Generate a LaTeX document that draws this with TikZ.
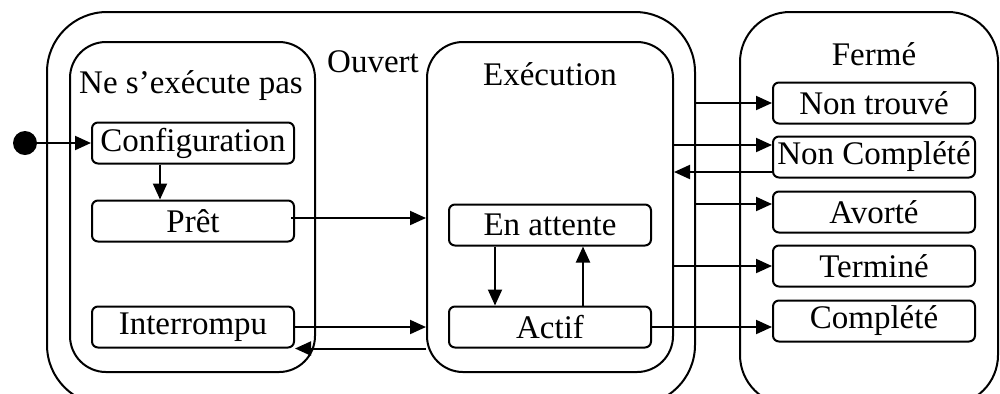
\documentclass[tikz,border=0pt]{standalone}
\usepackage{fontspec}
\setmainfont{Liberation Serif}
\usetikzlibrary{arrows.meta}
\begin{document}
\begin{tikzpicture}[x=0.5pt,y=-0.5pt,
  every node/.style={font=\fontsize{16.5}{19}\selectfont, inner sep=0pt},
  region/.style={draw, line width=1pt, rounded corners=#1},
  state/.style={draw, line width=1pt, rounded corners=3pt, minimum width=101pt, minimum height=20.5pt},
  arr/.style={line width=1pt, -{Triangle[length=8pt,width=7pt]}},
  lbl/.style={anchor=base}]
\useasboundingbox (0,0) rectangle (1000,393);

% composite states
\node[region=30pt, minimum width=324pt, minimum height=196.5pt] (ouvert) at (371,208.5) {};
\node[region=18pt, minimum width=122.5pt, minimum height=165pt] (nepas) at (192.5,207) {};
\node[region=18pt, minimum width=123pt, minimum height=165pt] (exec) at (550,207) {};
\node[region=25pt, minimum width=129pt, minimum height=196.5pt] (ferme) at (869,208.5) {};

% region titles
\node[lbl] (tnepas) at (191,93) {Ne s’exécute pas};
\node[lbl] (touvert) at (373,72) {Ouvert};
\node[lbl] (texec) at (550,85) {Exécution};
\node[lbl] (tferme) at (874,65) {Fermé};

% initial pseudo-state
\node[circle, fill, minimum size=12pt] (init) at (25,143) {};

% simple states
\node[state] (cfg) at (193,143) {Configuration};
\node[state] (pret) at (193,221) {Prêt};
\node[state] (intr) at (193,327) {Interrompu};
\node[state] (att) at (550,225) {En attente};
\node[state] (actif) at (550,327) {Actif};
\node[state] (nt) at (874,103) {Non trouvé};
\node[state] (nc) at (874,157) {Non Complété};
\node[state] (av) at (874,212) {Avorté};
\node[state] (te) at (874,266) {Terminé};
\node[state] (co) at (874,321) {Complété};

% transitions
\draw[arr] (init) -- (cfg.west);
\draw[arr] ([xshift=-16.5pt]cfg.south) -- ([xshift=-16.5pt]pret.north);
\draw[arr] ([xshift=-2pt,yshift=1.5pt]pret.east) -- ([yshift=1.5pt]pret.east -| exec.west);
\draw[arr] (intr.east) -- (intr.east -| exec.west);
\draw[arr] (intr.south east -| exec.west) -- (intr.south east);
\draw[arr] ([xshift=-27.5pt]att.south) -- ([xshift=-27.5pt]actif.north);
\draw[arr] ([xshift=16.5pt]actif.north) -- ([xshift=16.5pt]att.south);
\draw[arr] (nt.west -| ouvert.east) -- (nt.west);
\draw[arr] ([yshift=6pt]nc.west -| exec.east) -- ([yshift=6pt]nc.west);
\draw[arr] ([yshift=-7.5pt]nc.west) -- ([yshift=-7.5pt]nc.west -| exec.east);
\draw[arr] ([yshift=4pt]av.west -| ouvert.east) -- ([yshift=4pt]av.west);
\draw[arr] (te.west -| exec.east) -- (te.west);
\draw[arr] (actif.east) -- (actif.east -| co.west);
\end{tikzpicture}
\end{document}
